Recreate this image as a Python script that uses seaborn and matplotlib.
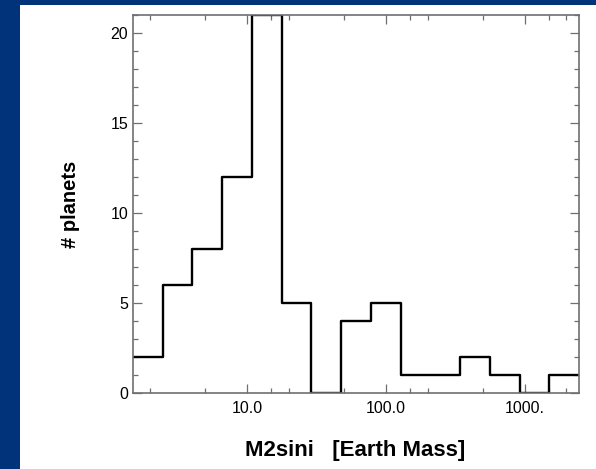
import numpy as np
import pandas as pd
import seaborn as sns
import matplotlib
matplotlib.use("Agg")
import matplotlib.pyplot as plt
from matplotlib.ticker import FixedLocator, FixedFormatter, NullFormatter, MultipleLocator
from matplotlib.patches import Rectangle

# ---- data ----
bin_edges = [1.51, 2.48, 4.05, 6.63, 10.9, 17.8, 29.1, 47.7, 78.1, 128, 209, 342, 561, 918, 1503, 2462]
counts = [2, 6, 8, 12, 21, 5, 0, 4, 5, 1, 1, 2, 1, 0, 1]
major_ticks = [10, 100, 1000]
major_labels = ["10.0", "100.0", "1000."]
minor_ticks = [2, 5, 15, 20, 50, 150, 200, 500, 1500, 2000]
y_ticks = [0, 5, 10, 15, 20]
x_label = "M2sini   [Earth Mass]"
y_label = "# planets"

edges = np.array(bin_edges, dtype=float)
centers = np.sqrt(edges[:-1] * edges[1:])
df = pd.DataFrame({"mass": centers, "n": counts})

sns.set_style("ticks")
plt.rcParams["font.family"] = ["Liberation Sans", "DejaVu Sans"]
plt.rcParams["text.color"] = "black"
plt.rcParams["axes.labelcolor"] = "black"

W, H = 596, 469
fig = plt.figure(figsize=(W / 100, H / 100), dpi=100)
fig.patch.set_facecolor("#00337A")
fig.patches.append(Rectangle((20 / W, 0), 1 - 20 / W, 1 - 5 / H, transform=fig.transFigure,
                             facecolor="white", edgecolor="none", zorder=-10))

ax = fig.add_axes([133 / W, (H - 393) / H, (579 - 133) / W, (393 - 15) / H])
ax.set_facecolor("white")

sns.histplot(data=df, x="mass", weights="n", bins=[float(v) for v in np.log10(edges)],
             log_scale=True, element="step", fill=False, color="black", linewidth=1.7, ax=ax)

ax.set_xlim(edges[0], edges[-1])
ax.set_ylim(0, 21)

ax.xaxis.set_major_locator(FixedLocator(major_ticks))
ax.xaxis.set_major_formatter(FixedFormatter(major_labels))
ax.xaxis.set_minor_locator(FixedLocator(minor_ticks))
ax.xaxis.set_minor_formatter(NullFormatter())
ax.yaxis.set_major_locator(FixedLocator(y_ticks))
ax.yaxis.set_minor_locator(MultipleLocator(1))

spine_col = "#6f6f6f"
for s in ax.spines.values():
    s.set_visible(True)
    s.set_color(spine_col)
    s.set_linewidth(1.2)

ax.tick_params(which="both", direction="in", top=True, right=True, color=spine_col, width=0.9)
ax.tick_params(which="major", length=6.5, labelsize=11.5, labelcolor="black")
ax.tick_params(which="minor", length=3.8)
ax.tick_params(axis="x", which="major", pad=6)
ax.tick_params(axis="y", which="major", pad=3.5)

ax.set_xlabel(x_label, fontsize=16, fontweight="bold", color="black")
ax.set_ylabel(y_label, fontsize=14.5, fontweight="bold", color="black")
ax.xaxis.label.set_va("center")
ax.yaxis.label.set_va("center")
ax.xaxis.set_label_coords((355.5 - 133) / 446, (393 - 450) / 378)
ax.yaxis.set_label_coords((70 - 133) / 446, 0.5)

fig.savefig("out.png", dpi=100, facecolor=fig.get_facecolor())
